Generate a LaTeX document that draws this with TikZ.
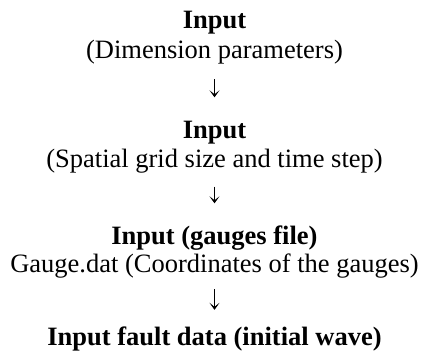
\documentclass[tikz,border=0pt]{standalone}
\usepackage{fontspec}
\setmainfont{Liberation Serif}
\usetikzlibrary{arrows.meta}
\begin{document}
\begin{tikzpicture}[x=1pt,y=-1pt,
  txt/.style={inner sep=0pt, anchor=base, text height=18pt, text depth=6pt, font=\fontsize{26.5}{30}\selectfont},
  hd/.style={txt, font=\fontsize{26.5}{30}\selectfont\bfseries},
  arr/.style={line width=1pt, -{Stealth[length=7pt,width=10pt,inset=4pt]}}]
\useasboundingbox (0,0) rectangle (422,356);
\node[hd]  (t1) at (214.5,28.5) {Input};
\node[txt] (d1) at (214.5,58) {(Dimension parameters)};
\node[hd]  (t2) at (214.5,138.5) {Input};
\node[txt] (d2) at (214.5,167) {(Spatial grid size and time step)};
\node[hd]  (t3) at (214.5,244) {Input (gauges file)};
\node[txt] (d3) at (214.5,272) {Gauge.dat (Coordinates of the gauges)};
\node[hd]  (t4) at (214.5,345) {Input fault data (initial wave)};
\draw[arr, shorten <=15pt, shorten >=23pt] (d1.south) -- (t2.north);
\draw[arr, shorten <=13.5pt, shorten >=22.5pt] (d2.south) -- (t3.north);
\draw[arr, shorten <=11pt, shorten >=17pt] (d3.south) -- (t4.north);
\end{tikzpicture}
\end{document}
